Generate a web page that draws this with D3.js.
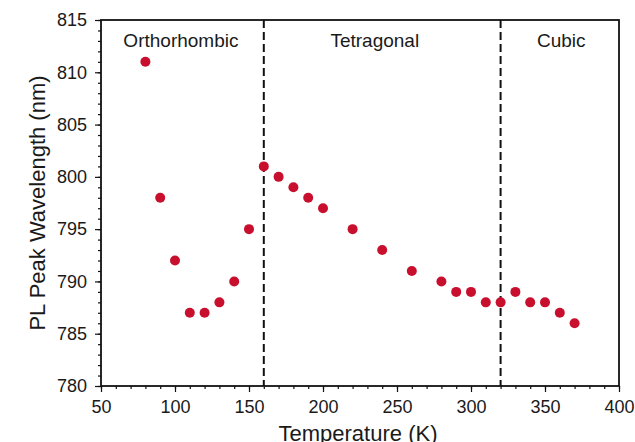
<!DOCTYPE html>
<html>
<head>
<meta charset="utf-8">
<script src="https://cdn.jsdelivr.net/npm/d3@7"></script>
<style>
  body { margin: 0; background: #fff; }
  svg text { font-family: "Liberation Sans", Arial, sans-serif; fill: #1a1a1a; }
</style>
</head>
<body>
<div id="chart"></div>
<script>
// temperature (K) and PL peak wavelength (nm)
const temps = [80, 90, 100, 110, 120, 130, 140, 150, 160, 170, 180, 190, 200, 220, 240, 260, 280, 290, 300, 310, 320, 330, 340, 350, 360, 370];
const peaks = [811, 798, 792, 787, 787, 788, 790, 795, 801, 800, 799, 798, 797, 795, 793, 791, 790, 789, 789, 788, 788, 789, 788, 788, 787, 786];

const xTicks = [50, 100, 150, 200, 250, 300, 350, 400];
const yTicks = [780, 785, 790, 795, 800, 805, 810, 815];
const transitions = [160, 320];
const phases = [
    {name: "Orthorhombic", at: 104},
    {name: "Tetragonal", at: 235},
    {name: "Cubic", at: 361}
];

const width = 635, height = 442;
const margin = {top: 20, right: 16, bottom: 56, left: 101};

const svg = d3.select("#chart").append("svg")
    .attr("width", width)
    .attr("height", height);

const x = d3.scaleLinear().domain([50, 400]).range([margin.left, width - margin.right]);
const y = d3.scaleLinear().domain([780, 815]).range([height - margin.bottom, margin.top]);

// minor ticks
svg.append("g")
    .attr("transform", `translate(0,${y(780)})`)
    .call(d3.axisBottom(x).tickValues(d3.range(50, 401, 10)).tickSize(3).tickFormat(""))
    .call(g => g.select(".domain").remove());
svg.append("g")
    .attr("transform", `translate(${x(50)},0)`)
    .call(d3.axisLeft(y).tickValues(d3.range(780, 816, 1)).tickSize(3).tickFormat(""))
    .call(g => g.select(".domain").remove());

// major ticks
const xAxis = svg.append("g")
    .attr("transform", `translate(0,${y(780)})`)
    .call(d3.axisBottom(x).tickValues(xTicks).tickSize(6).tickPadding(8));
const yAxis = svg.append("g")
    .attr("transform", `translate(${x(50)},0)`)
    .call(d3.axisLeft(y).tickValues(yTicks).tickSize(6).tickPadding(8));

[xAxis, yAxis].forEach(g => {
    g.selectAll("text").style("font-size", "18px").style("font-family", "Liberation Sans, Arial, sans-serif").attr("fill", "#1a1a1a");
    g.select(".domain").remove();
});
svg.selectAll("g.tick line").attr("stroke", "#111").attr("stroke-width", 1.2);

// frame
svg.append("rect")
    .attr("x", x(50))
    .attr("y", y(815))
    .attr("width", x(400) - x(50))
    .attr("height", y(780) - y(815))
    .attr("fill", "none")
    .attr("stroke", "#111")
    .attr("stroke-width", 1.8);

// phase boundaries
svg.selectAll(".boundary")
    .data(transitions)
    .enter().append("line")
    .attr("x1", d => x(d))
    .attr("x2", d => x(d))
    .attr("y1", y(815))
    .attr("y2", y(780))
    .attr("stroke", "#111")
    .attr("stroke-width", 2)
    .attr("stroke-dasharray", "8,4");

svg.selectAll(".phase")
    .data(phases)
    .enter().append("text")
    .attr("x", d => x(d.at))
    .attr("y", 47)
    .attr("text-anchor", "middle")
    .style("font-size", "19px")
    .text(d => d.name);

// points
svg.selectAll(".pt")
    .data(temps)
    .enter().append("circle")
    .attr("cx", d => x(d))
    .attr("cy", (d, i) => y(peaks[i]))
    .attr("r", 5)
    .attr("fill", "#c8102e");

// axis titles
svg.append("text")
    .attr("x", 358)
    .attr("y", 441)
    .attr("text-anchor", "middle")
    .style("font-size", "22px")
    .text("Temperature (K)");

svg.append("text")
    .attr("transform", `translate(45,${y(797.5)}) rotate(-90)`)
    .attr("text-anchor", "middle")
    .style("font-size", "22px")
    .text("PL Peak Wavelength (nm)");
</script>
</body>
</html>
